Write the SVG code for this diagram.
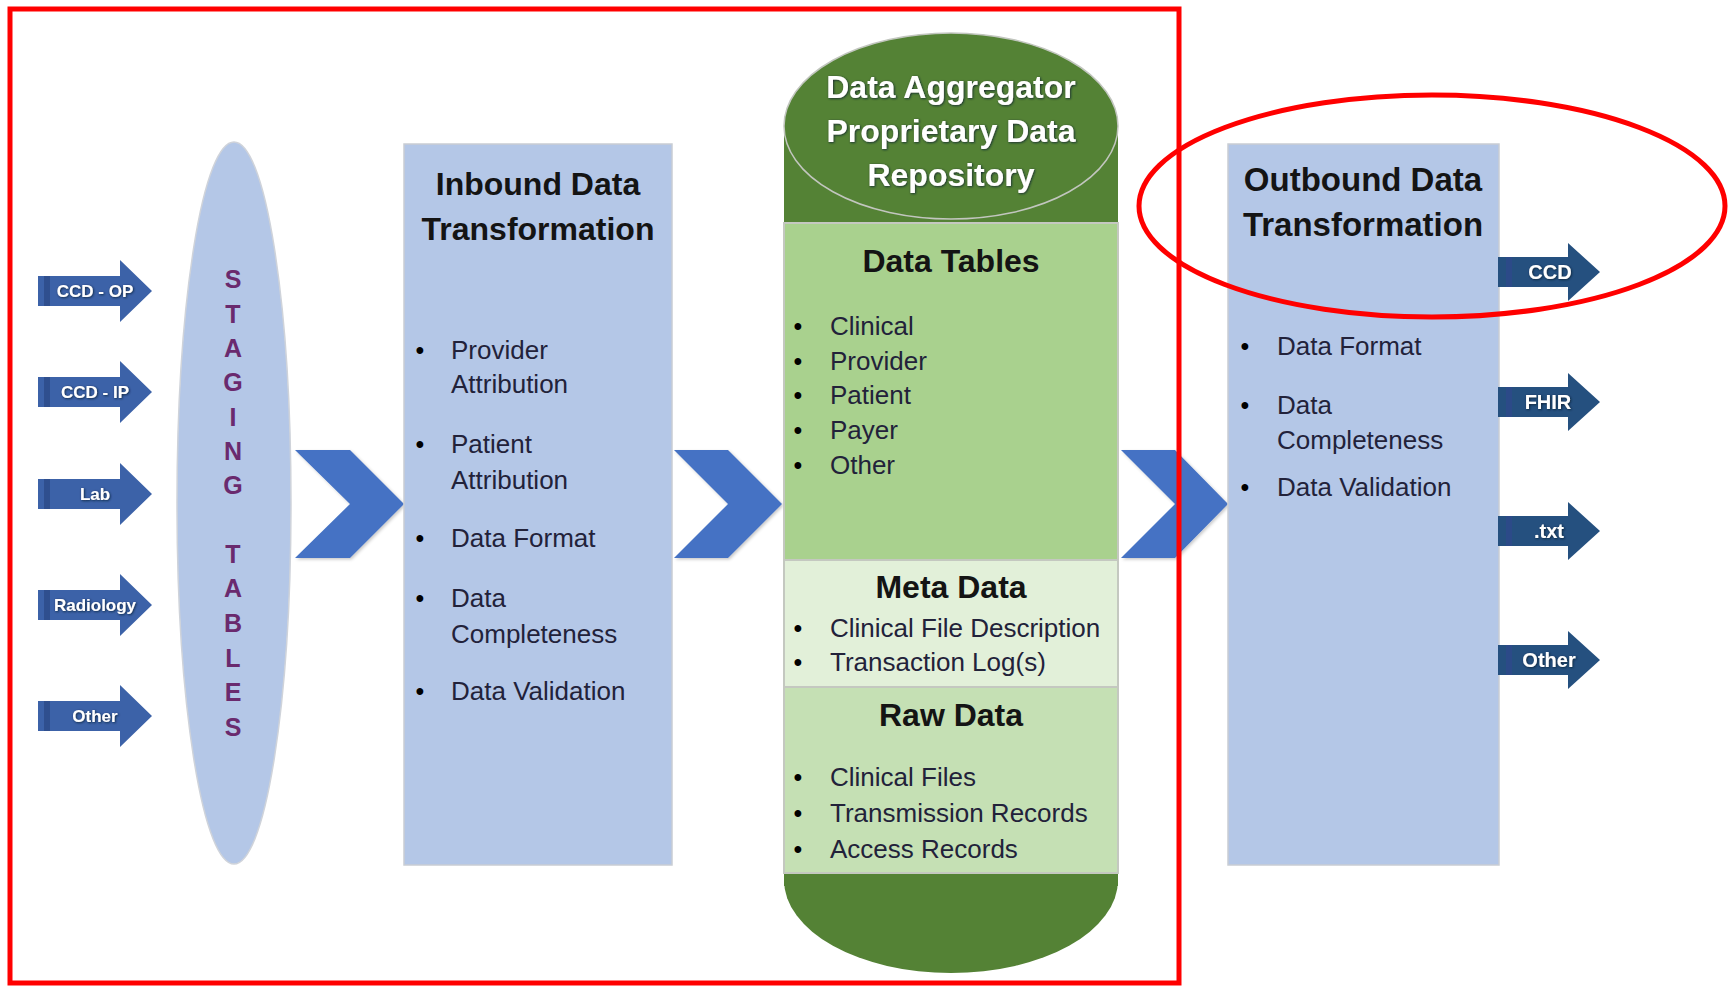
<svg xmlns="http://www.w3.org/2000/svg" xmlns:xlink="http://www.w3.org/1999/xlink" width="1732" height="987" viewBox="0 0 1732 987">
<defs>
<style>
.ttl{font-family:"Liberation Sans",Arial,sans-serif;font-weight:bold;font-size:32px;fill:#141414;text-anchor:middle}
.wt{font-family:"Liberation Sans",Arial,sans-serif;font-weight:bold;fill:#ffffff;text-anchor:middle;filter:url(#ts)}
.li{font-family:"Liberation Sans",Arial,sans-serif;font-size:26px;fill:#22223a}
.bu{font-family:"Liberation Sans",Arial,sans-serif;font-size:25px;fill:#000;text-anchor:middle}
.stg{font-family:"Liberation Sans",Arial,sans-serif;font-weight:bold;font-size:25px;fill:#6a2a6e;text-anchor:middle}
.box{fill:#b4c7e7;stroke:#c9cdd4;stroke-width:1.5}
.chev{fill:#4472c4;filter:url(#sh)}
.inA{fill:#3c62a8}
.outA{fill:#25507f}
.red{fill:none;stroke:#ff0000;stroke-width:5}
</style>
<filter id="ts" x="-10%" y="-30%" width="120%" height="160%">
<feDropShadow dx="0.8" dy="0.8" stdDeviation="0.9" flood-color="#0b1a33" flood-opacity="0.9"/>
</filter>
<filter id="sh" x="-10%" y="-10%" width="130%" height="130%">
<feDropShadow dx="1.5" dy="1.5" stdDeviation="1.5" flood-color="#000" flood-opacity="0.22"/>
</filter>
<g id="inArrow">
<path class="inA" d="M38,-15 H120 V-31 L152,0 L120,31 V15 H38 Z"/>
<rect x="44" y="-15" width="6" height="30" fill="#2f4f8e"/>
</g>
<g id="outArrow">
<path class="outA" d="M1498,-15 H1568 V-29 L1600,0 L1568,29 V15 H1498 Z"/>
<rect x="1506" y="-15" width="6" height="30" fill="#2c4a88"/>
</g>
</defs>
<rect width="1732" height="987" fill="#ffffff"/>

<g id="connectors">
<polygon class="chev" points="295,450 350,450 404,504 350,558 295,558 350,504"/>
<polygon class="chev" points="674,450 728,450 782,504 728,558 674,558 728,504"/>
<polygon class="chev" points="1121,450 1175,450 1228,504 1175,558 1121,558 1175,504"/>
</g>

<g id="input-ccd-op"><use href="#inArrow" transform="translate(0,291)"/><text class="wt" x="95" y="297" font-size="17">CCD - OP</text></g>
<g id="input-ccd-ip"><use href="#inArrow" transform="translate(0,392)"/><text class="wt" x="95" y="398" font-size="17">CCD - IP</text></g>
<g id="input-lab"><use href="#inArrow" transform="translate(0,494)"/><text class="wt" x="95" y="500" font-size="17">Lab</text></g>
<g id="input-radiology"><use href="#inArrow" transform="translate(0,605)"/><text class="wt" x="95" y="611" font-size="17">Radiology</text></g>
<g id="input-other"><use href="#inArrow" transform="translate(0,716)"/><text class="wt" x="95" y="722" font-size="17">Other</text></g>

<g id="staging-tables">
<ellipse cx="234" cy="503" rx="57" ry="361" fill="#b4c7e7" stroke="#cfd3da" stroke-width="1.5"/>
<text class="stg"><tspan x="233" y="288">S</tspan><tspan x="233" y="323">T</tspan><tspan x="233" y="357">A</tspan><tspan x="233" y="391">G</tspan><tspan x="233" y="426">I</tspan><tspan x="233" y="460">N</tspan><tspan x="233" y="494">G</tspan><tspan x="233" y="563">T</tspan><tspan x="233" y="597">A</tspan><tspan x="233" y="632">B</tspan><tspan x="233" y="667">L</tspan><tspan x="233" y="701">E</tspan><tspan x="233" y="736">S</tspan></text>
</g>

<g id="inbound">
<rect class="box" x="404" y="144" width="268" height="721"/>
<text class="ttl" x="538" y="195">Inbound Data</text>
<text class="ttl" x="538" y="240">Transformation</text>
<text class="bu" x="420" y="359">•</text><text class="li" x="451" y="359">Provider</text>
<text class="li" x="451" y="393">Attribution</text>
<text class="bu" x="420" y="453">•</text><text class="li" x="451" y="453">Patient</text>
<text class="li" x="451" y="489">Attribution</text>
<text class="bu" x="420" y="547">•</text><text class="li" x="451" y="547">Data Format</text>
<text class="bu" x="420" y="607">•</text><text class="li" x="451" y="607">Data</text>
<text class="li" x="451" y="643">Completeness</text>
<text class="bu" x="420" y="700">•</text><text class="li" x="451" y="700">Data Validation</text>
</g>

<g id="repository">
<rect x="784" y="126" width="334" height="760" fill="#548235"/>
<path d="M784,873 V880 A167,93 0 0 0 1118,880 V873 Z" fill="#548235"/>
<rect x="784" y="223" width="334" height="337" fill="#a9d18e" stroke="#c4c8c0" stroke-width="2"/>
<rect x="784" y="560" width="334" height="127" fill="#e2f0d9" stroke="#c4c8c0" stroke-width="2"/>
<rect x="784" y="687" width="334" height="186" fill="#c5e0b4" stroke="#c4c8c0" stroke-width="2"/>
<ellipse cx="951" cy="126" rx="167" ry="93" fill="#548235" stroke="#c2c6bf" stroke-width="1.5"/>
<text class="wt" x="951" y="98" font-size="32">Data Aggregator</text>
<text class="wt" x="951" y="142" font-size="32">Proprietary Data</text>
<text class="wt" x="951" y="186" font-size="32">Repository</text>
<text class="ttl" x="951" y="272">Data Tables</text>
<text class="bu" x="798" y="335">•</text><text class="li" x="830" y="335">Clinical</text>
<text class="bu" x="798" y="370">•</text><text class="li" x="830" y="370">Provider</text>
<text class="bu" x="798" y="404">•</text><text class="li" x="830" y="404">Patient</text>
<text class="bu" x="798" y="439">•</text><text class="li" x="830" y="439">Payer</text>
<text class="bu" x="798" y="474">•</text><text class="li" x="830" y="474">Other</text>
<text class="ttl" x="951" y="598">Meta Data</text>
<text class="bu" x="798" y="637">•</text><text class="li" x="830" y="637">Clinical File Description</text>
<text class="bu" x="798" y="671">•</text><text class="li" x="830" y="671">Transaction Log(s)</text>
<text class="ttl" x="951" y="726">Raw Data</text>
<text class="bu" x="798" y="786">•</text><text class="li" x="830" y="786">Clinical Files</text>
<text class="bu" x="798" y="822">•</text><text class="li" x="830" y="822">Transmission Records</text>
<text class="bu" x="798" y="858">•</text><text class="li" x="830" y="858">Access Records</text>
</g>

<g id="outbound">
<rect class="box" x="1228" y="144" width="271" height="721"/>
<text class="ttl" x="1363" y="191" style="font-size:33px">Outbound Data</text>
<text class="ttl" x="1363" y="236" style="font-size:33px">Transformation</text>
<text class="bu" x="1245" y="355">•</text><text class="li" x="1277" y="355">Data Format</text>
<text class="bu" x="1245" y="414">•</text><text class="li" x="1277" y="414">Data</text>
<text class="li" x="1277" y="449">Completeness</text>
<text class="bu" x="1245" y="496">•</text><text class="li" x="1277" y="496">Data Validation</text>
</g>

<g id="output-ccd"><use href="#outArrow" transform="translate(0,272)"/><text class="wt" x="1550" y="279" font-size="20">CCD</text></g>
<g id="output-fhir"><use href="#outArrow" transform="translate(0,402)"/><text class="wt" x="1548" y="409" font-size="20">FHIR</text></g>
<g id="output-txt"><use href="#outArrow" transform="translate(0,531)"/><text class="wt" x="1549" y="538" font-size="20">.txt</text></g>
<g id="output-other"><use href="#outArrow" transform="translate(0,660)"/><text class="wt" x="1549" y="667" font-size="20">Other</text></g>

<g id="annotations">
<rect class="red" x="10" y="9" width="1169" height="974"/>
<ellipse class="red" cx="1432" cy="206" rx="293" ry="111"/>
</g>
</svg>
